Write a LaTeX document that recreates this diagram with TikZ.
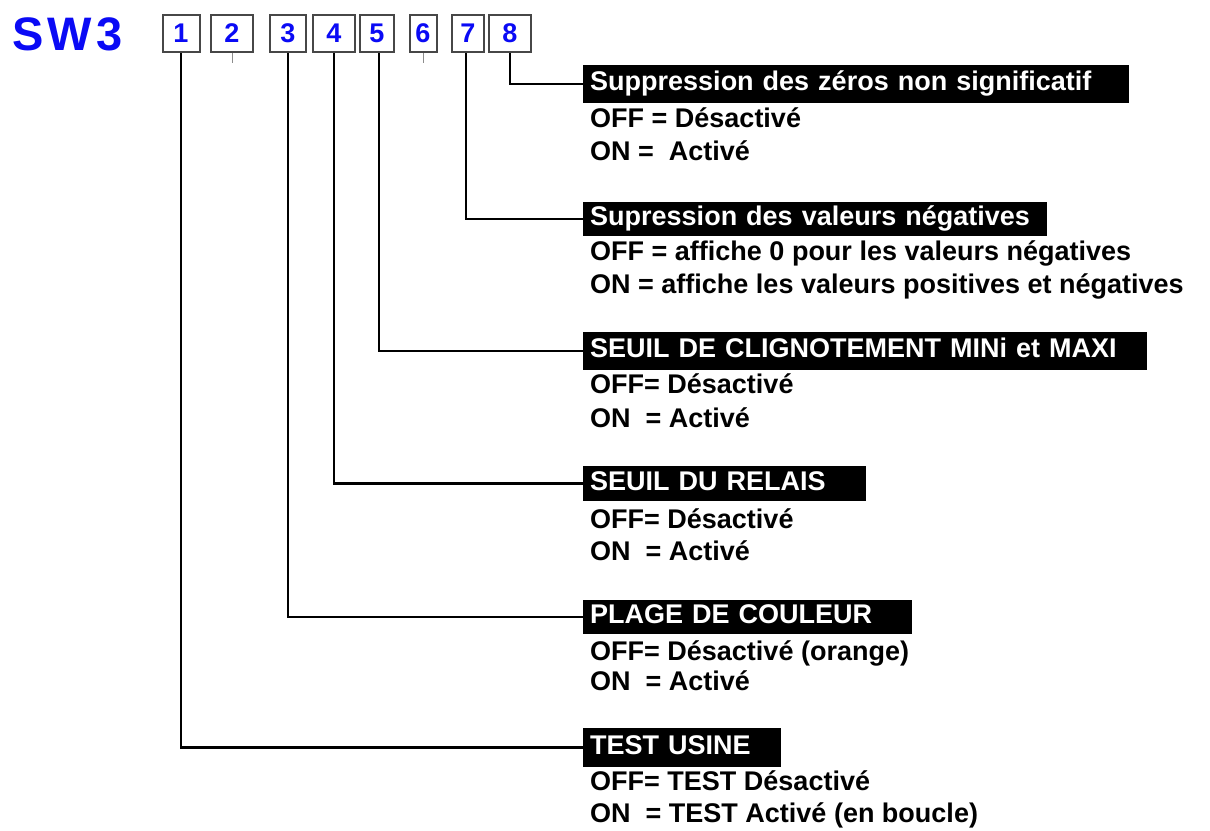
\documentclass[tikz,border=0pt]{standalone}
\usepackage{fontspec}
\setmainfont{Liberation Sans}
\definecolor{swblue}{RGB}{10,10,245}

\begin{document}
\begin{tikzpicture}[x=1pt,y=-1pt,
        every node/.style={font=\fontsize{27}{30}\selectfont\bfseries},
        switch/.style={draw=black!72,line width=2pt,fill=white,text=swblue,minimum height=37pt,inner sep=0pt},
        title/.style={fill=black,text=white,anchor=west,align=left,inner xsep=7pt,inner ysep=0pt,text height=19pt,text depth=6pt},
        info/.style={anchor=base west,inner sep=0pt},
        wire/.style={line width=2.8pt},
        tick/.style={line width=1pt,black!45}]
        \useasboundingbox (0,0) rectangle (1210,830);
        \node [anchor=base west,inner sep=0pt,text=swblue,font=\fontsize{47}{50}\selectfont\bfseries\addfontfeature{LetterSpace=9}] (sw) at (12,50) {SW3};
        % the eight switches
        \node [switch,minimum width=37pt] (b1) at (181,33.5) {1};
        \node [switch,minimum width=42pt] (b2) at (232,33.5) {2};
        \node [switch,minimum width=36pt] (b3) at (288,33.5) {3};
        \node [switch,minimum width=42pt] (b4) at (334,33.5) {4};
        \node [switch,minimum width=34pt] (b5) at (377,33.5) {5};
        \node [switch,minimum width=27pt] (b6) at (423,33.5) {6};
        \node [switch,minimum width=32pt] (b7) at (468,33.5) {7};
        \node [switch,minimum width=42pt] (b8) at (510,33.5) {8};
        \draw [tick] (b2.south) -- ++(0,10);
        \draw [tick] (b6.south) -- ++(0,10);
        % switch 8
        \node [title,text width=532pt,minimum height=38pt] (h8) at (583,84) {Suppression des zéros non significatif};
        \node [info] (h8off) at (590,127) {OFF = Désactivé};
        \node [info] (h8on) at (590,160) {ON = \ Activé};
        % switch 7
        \node [title,text width=450pt,minimum height=34pt] (h7) at (583,219) {Supression des valeurs négatives};
        \node [info] (h7off) at (590,260) {OFF = affiche 0 pour les valeurs négatives};
        \node [info] (h7on) at (590,293) {ON = affiche les valeurs positives et négatives};
        % switch 5
        \node [title,text width=550pt,minimum height=38pt] (h5) at (583,351) {SEUIL DE CLIGNOTEMENT MINi et MAXI};
        \node [info] (h5off) at (590,393) {OFF= Désactivé};
        \node [info] (h5on) at (590,427) {ON \ = Activé};
        % switch 4
        \node [title,text width=269pt,minimum height=35pt] (h4) at (583,483.5) {SEUIL DU RELAIS};
        \node [info] (h4off) at (590,528) {OFF= Désactivé};
        \node [info] (h4on) at (590,560) {ON \ = Activé};
        % switch 3
        \node [title,text width=315pt,minimum height=34pt] (h3) at (583,617) {PLAGE DE COULEUR};
        \node [info] (h3off) at (590,660) {OFF= Désactivé (orange)};
        \node [info] (h3on) at (590,690) {ON \ = Activé};
        % switch 1
        \node [title,text width=184pt,minimum height=39pt] (h1) at (583,747.5) {TEST USINE};
        \node [info] (h1off) at (590,790) {OFF= TEST Désactivé};
        \node [info] (h1on) at (590,822) {ON \ = TEST Activé (en boucle)};
        % wires
        \draw [wire] (b8.south) |- (h8.west);
        \draw [wire] (b7.south) ++(-2,0) |- (h7.west);
        \draw [wire] (b5.south) ++(2,0) |- (h5.west);
        \draw [wire] (b4.south) |- (h4.west);
        \draw [wire] (b3.south) |- (h3.west);
        \draw [wire] (b1.south) |- (h1.west);
    \end{tikzpicture}
\end{document}
